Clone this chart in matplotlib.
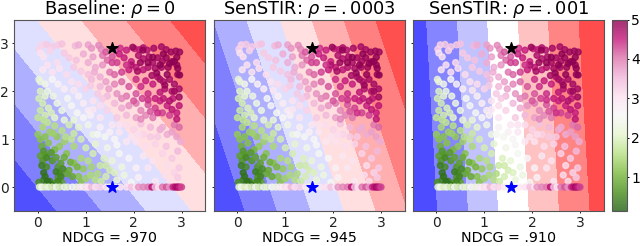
import numpy as np
from matplotlib import pyplot as plt

titles = ['Baseline: $\\rho = 0$', 'SenSTIR: $\\rho = .0003$', 'SenSTIR: $\\rho = .001$']
xlabels = ['NDCG = .970', 'NDCG = .945', 'NDCG = .910']

# background planes: x + slope*y, band edges
plane_slope = [0.81, 0.336, 0.058]
plane_levels = [
    [-100, -0.01, 0.93, 1.86, 2.82, 3.74, 4.67, 5.59, 100],
    [-100, -0.01, 0.67, 1.37, 2.07, 2.73, 3.40, 4.06, 100],
    [-100, -0.004, 0.64, 1.27, 1.91, 2.54, 3.18, 100],
]
bands8 = ['#5050ff', '#8080ff', '#afafff', '#dfdfff', '#ffdfdf', '#ffafaf', '#ff8080', '#ff5050']
bands7 = ['#4d4dff', '#8585ff', '#c2c2ff', '#ffffff', '#ffc2c2', '#ff8585', '#ff4d4d']
plane_colors = [bands8, bands8, bands7]

point_x = [
    0.03, 0.08, 0.18, 0.3, 0.42, 0.5, 0.78, 0.85, 1.05, 1.12, 1.27, 1.32, 1.62, 1.72, 1.85, 2.02, 2.12, 2.2, 2.28, 2.42, 2.58, 2.68, 2.78, 2.88, 2.96,
    0.05, 0.12, 0.25, 0.4, 0.55, 0.65, 0.8, 0.95, 1.05, 1.15, 1.35, 1.45, 1.55, 1.65,
    1.8, 1.95, 2.1, 2.2, 2.32, 2.4, 2.5, 2.6, 2.68, 2.8, 2.9, 2.72, 2.58, 2.45, 2.3, 2.2, 2.05, 1.9, 1.75, 1.5, 1.6,
    0.1, 0.2, 0.3, 0.45, 0.6, 0.75, 0.9, 1.05, 1.2, 1.3, 1.42, 0.05, 0.02, 0.15, 0.3, 0.42, 0.55, 0.7, 0.85, 1.0, 1.12,
    1.6, 1.75, 1.9, 2.05, 2.15, 2.25, 2.4, 2.5, 2.62, 2.75, 2.85, 2.92, 2.95, 2.8, 2.65, 2.55, 2.3, 2.05, 1.85, 1.65, 1.45, 1.25,
    0.05, 0.02, 0.1, 0.05, 0.0, 0.15, 0.22, 0.32, 0.4, 0.5, 0.62, 0.7, 0.85, 0.95, 0.82, 1.05, 1.15, 1.3, 1.45, 1.6, 1.75, 1.9,
    2.05, 2.15, 2.3, 2.45, 2.55, 2.7, 2.82, 2.95, 2.9, 2.75, 2.6, 2.4, 2.25, 2.05, 1.85, 1.65, 1.3, 1.1, 0.95, 0.35, 0.55,
    0.0, 0.05, 0.1, 0.2, 0.25, 0.35, 0.4, 0.5, 0.55, 0.65, 0.75, 0.85, 0.9, 1.05, 1.15, 1.3, 1.4, 1.55, 1.7, 1.85, 2.0, 2.15,
    2.2, 2.35, 2.5, 2.6, 2.7, 2.85, 2.95, 2.9, 2.98, 2.68, 2.45, 2.25, 2.05, 1.85, 1.65, 1.45, 1.2, 1.0, 0.75, 0.45, 0.22, 0.08,
    0.05, 0.1, 0.15, 0.18, 0.3, 0.35, 0.42, 0.48, 0.45, 0.6, 0.65, 0.75, 0.9, 0.95, 1.05, 1.15, 1.3, 1.38, 1.5, 1.55, 1.7, 1.75,
    1.9, 2.05, 2.2, 2.3, 2.4, 2.6, 2.7, 2.8, 2.92, 2.95, 2.85,
    0.02, 0.12, 0.18, 0.25, 0.35, 0.42, 0.5, 0.6, 0.85, 0.9, 1.0, 1.1, 1.2, 1.32, 1.42, 1.65, 1.8, 1.95, 2.1, 2.45, 2.65, 2.75, 2.92,
]
point_y = [
    2.88, 2.97, 2.98, 2.93, 2.97, 2.99, 2.95, 2.97, 2.97, 2.9, 2.96, 2.88, 2.85, 2.9, 2.86, 2.89, 2.87, 2.91, 2.86, 2.9, 2.93, 2.87, 2.82, 2.84, 2.82,
    2.8, 2.72, 2.85, 2.6, 2.8, 2.7, 2.65, 2.78, 2.6, 2.72, 2.75, 2.65, 2.72, 2.6,
    2.7, 2.62, 2.75, 2.68, 2.72, 2.6, 2.7, 2.63, 2.7, 2.62, 2.55, 2.5, 2.5, 2.48, 2.5, 2.45, 2.5, 2.45, 2.4, 2.4, 2.35,
    2.45, 2.55, 2.4, 2.48, 2.35, 2.5, 2.42, 2.35, 2.5, 2.3, 2.2, 2.2, 2.25, 2.15, 2.25, 2.15, 2.05, 2.2, 2.15, 2.05, 2.25,
    2.15, 2.2, 2.1, 2.25, 2.1, 2.22, 2.15, 2.3, 2.2, 2.25, 2.15, 2.35, 2.05, 2.0, 2.05, 1.98, 1.95, 1.95, 1.9, 1.95, 1.9, 1.95,
    2.0, 1.85, 1.75, 1.6, 1.45, 1.5, 1.65, 1.9, 1.75, 1.6, 1.85, 1.7, 1.9, 1.75, 1.55, 1.6, 1.8, 1.7, 1.6, 1.75, 1.65, 1.7,
    1.75, 1.6, 1.72, 1.65, 1.8, 1.7, 1.85, 1.7, 1.55, 1.5, 1.55, 1.45, 1.5, 1.45, 1.5, 1.45, 1.45, 1.5, 1.45, 1.45, 1.4,
    1.1, 1.0, 1.25, 1.35, 1.15, 1.28, 1.05, 1.18, 0.95, 1.3, 1.12, 1.25, 1.0, 1.3, 1.1, 1.25, 1.05, 1.3, 1.15, 1.3, 1.2, 1.32,
    1.1, 1.25, 1.05, 1.25, 1.1, 1.3, 1.25, 1.05, 0.95, 0.85, 0.9, 0.85, 0.95, 0.95, 0.88, 0.82, 0.9, 0.82, 0.85, 0.85, 0.92, 0.85,
    0.65, 0.55, 0.68, 0.42, 0.55, 0.78, 0.42, 0.5, 0.3, 0.7, 0.35, 0.5, 0.6, 0.38, 0.55, 0.7, 0.45, 0.6, 0.35, 0.55, 0.7, 0.42,
    0.6, 0.4, 0.65, 0.4, 0.55, 0.7, 0.45, 0.6, 0.75, 0.4, 0.3,
    0.1, 0.15, 0.05, 0.12, 0.08, 0.2, 0.1, 0.28, 0.22, 0.1, 0.18, 0.25, 0.15, 0.12, 0.22, 0.15, 0.25, 0.1, 0.2, 0.12, 0.25, 0.12, 0.2,
]
point_v = [
    3.2, 3.2, 3.3, 3.3, 3.3, 3.4, 3.5, 3.6, 3.7, 3.8, 3.9, 3.9, 4.2, 4.4, 4.5, 4.5, 4.6, 4.7, 4.7, 4.8, 4.8, 4.8, 4.9, 4.9, 4.9,
    3.0, 3.0, 3.2, 3.1, 3.3, 3.3, 3.4, 3.6, 3.6, 3.7, 4.0, 4.1, 4.2, 4.3,
    4.5, 4.5, 4.7, 4.7, 4.8, 4.8, 4.8, 4.8, 4.9, 4.9, 4.9, 4.9, 4.8, 4.8, 4.7, 4.6, 4.6, 4.5, 4.3, 4.0, 4.1,
    2.9, 3.0, 3.0, 3.0, 3.1, 3.3, 3.3, 3.4, 3.6, 3.6, 3.7, 2.2, 2.2, 2.4, 2.6, 2.7, 2.8, 3.0, 3.1, 3.2, 3.5,
    3.9, 4.1, 4.2, 4.4, 4.4, 4.5, 4.5, 4.7, 4.7, 4.8, 4.8, 4.9, 4.8, 4.7, 4.7, 4.6, 4.4, 4.2, 4.0, 3.8, 3.5, 3.3,
    2.0, 1.9, 1.9, 1.8, 1.7, 1.9, 2.0, 2.3, 2.3, 2.3, 2.5, 2.5, 2.7, 2.8, 2.5, 2.8, 3.0, 3.1, 3.2, 3.5, 3.6, 3.8,
    4.0, 3.9, 4.2, 4.3, 4.5, 4.5, 4.6, 4.6, 4.5, 4.3, 4.3, 4.0, 3.9, 3.7, 3.5, 3.3, 2.9, 2.7, 2.6, 2.1, 2.2,
    1.3, 1.2, 1.5, 1.7, 1.4, 1.6, 1.3, 1.6, 1.4, 1.9, 1.8, 2.1, 1.9, 2.4, 2.3, 2.7, 2.5, 2.9, 2.9, 3.1, 3.2, 3.4,
    3.2, 3.5, 3.3, 3.6, 3.6, 4.0, 4.1, 3.7, 3.6, 3.4, 3.2, 3.1, 3.0, 2.9, 2.6, 2.4, 2.1, 1.9, 1.5, 1.3, 1.2, 1.0,
    0.8, 0.7, 0.8, 0.6, 0.7, 1.1, 0.7, 0.8, 0.6, 1.2, 0.9, 1.2, 1.5, 1.3, 1.6, 1.9, 1.8, 2.0, 1.9, 2.2, 2.5, 2.3,
    2.6, 2.7, 2.9, 2.9, 3.0, 3.2, 3.1, 3.3, 3.5, 3.3, 3.2,
    0.6, 0.5, 0.5, 0.5, 0.7, 0.7, 0.8, 0.9, 1.2, 1.2, 1.4, 1.5, 1.6, 1.8, 1.9, 2.2, 2.3, 2.5, 2.7, 2.9, 3.1, 3.1, 3.3,
]
# second pass over the picture: clusters the first pass missed
extra_x = [1.98, 2.19, 2.4, 2.55, 2.48, 2.9, 2.96, 2.92, 2.65, 2.3, 2.14, 2.62, 2.75, 2.85, 2.08, 1.95, 2.38, 2.55, 2.7, 2.85, 2.95, 2.75, 2.62, 2.45, 2.3, 2.18, 2.0, 2.9, 2.8, 2.5, 2.35, 2.15,
           1.42, 1.55, 1.7, 1.85, 1.35, 1.18,
           0.12, 0.2, 0.15, 0.28, 0.38, 0.48, 0.42, 0.52, 0.08, 0.18, 0.12, 0.28, 0.38, 0.55, 0.68, 0.82, 0.72, 1.12, 1.25, 1.42, 1.6,
           0.58, 0.7, 0.32, 0.15, 0.12, 0.28, 0.75, 1.25, 1.5, 1.6, 1.95, 2.1, 2.35, 2.55, 2.8, 1.1, 1.3, 1.48, 1.35, 0.75, 0.2, 0.15, 1.7, 1.15, 1.75]
extra_y = [2.92, 2.86, 2.71, 2.55, 2.38, 2.71, 2.34, 2.48, 2.13, 2.6, 2.6, 2.78, 2.58, 2.62, 2.42, 2.55, 2.33, 2.25, 2.35, 2.0, 1.88, 1.8, 1.85, 1.85, 1.82, 1.85, 1.8, 1.42, 1.62, 1.55, 1.58, 1.42,
           2.82, 2.6, 2.78, 2.55, 2.55, 2.4,
           0.3, 0.12, 0.22, 0.05, 0.32, 0.22, 0.12, 0.38, 0.45, 0.62, 0.75, 0.72, 0.62, 0.62, 0.52, 0.42, 0.22, 0.42, 0.28, 0.45, 0.3,
           1.05, 1.0, 1.12, 1.05, 1.4, 1.55, 1.4, 1.1, 1.15, 1.0, 1.05, 1.1, 1.05, 1.2, 1.15, 2.12, 2.1, 2.05, 1.85, 2.02, 2.0, 1.9, 1.3, 1.62, 1.85]
extra_v = [4.9, 4.95, 5.0, 5.0, 4.95, 5.0, 5.0, 5.0, 4.9, 4.95, 4.9, 5.0, 5.0, 5.0, 4.8, 4.7, 4.8, 4.8, 4.95, 4.85, 4.85, 4.7, 4.6, 4.5, 4.4, 4.3, 4.2, 4.6, 4.6, 4.4, 4.2, 3.9,
           4.2, 4.3, 4.5, 4.4, 3.8, 3.6,
           0.3, 0.25, 0.3, 0.3, 0.45, 0.5, 0.5, 0.6, 0.45, 0.55, 0.7, 0.75, 0.85, 0.95, 1.0, 1.05, 0.9, 1.45, 1.55, 1.85, 2.0,
           1.6, 1.7, 1.4, 1.2, 1.7, 1.95, 2.2, 2.5, 2.7, 2.6, 3.0, 3.1, 3.3, 3.6, 3.7, 3.3, 3.5, 3.7, 3.3, 2.9, 2.3, 2.1, 3.0, 2.9, 3.9]
# the row of points lying on y = 0
row_x = [0.03, 0.08, 0.15, 0.22, 0.3, 0.38, 0.45, 0.55, 0.62, 0.72, 0.8, 0.88, 0.95, 1.0, 1.05, 1.12, 1.2, 1.3, 1.42, 1.5,
         1.6, 1.72, 1.85, 1.95, 2.05, 2.1, 2.2, 2.3, 2.38, 2.45, 2.52, 2.6, 2.68, 2.75, 2.82, 2.86, 2.9, 2.93, 2.96, 3.0]
row_v = [2.0, 2.5, 2.0, 2.3, 1.9, 2.5, 1.9, 2.3, 2.1, 2.6, 2.3, 2.8, 2.7, 3.1, 2.9, 3.5, 3.0, 3.2, 2.9, 2.4,
         2.6, 2.9, 3.0, 3.4, 2.9, 3.8, 3.9, 4.0, 4.6, 3.5, 3.0, 4.0, 4.2, 3.8, 4.4, 4.6, 4.8, 4.7, 4.5, 4.3]

star_x = [1.55, 1.55]
star_y = [2.9, 0.0]
star_c = ['black', 'blue']

W, H = 640.0, 246.0
lefts = [14, 213.5, 412.5]

fig = plt.figure(figsize=(6.4, 2.46), dpi=100)

gx, gy = np.meshgrid(np.linspace(-0.5, 3.5, 50), np.linspace(-0.5, 3.5, 50))
all_x = point_x + extra_x + row_x
all_y = point_y + extra_y + [0.0] * len(row_x)
all_v = point_v + extra_v + row_v

for i in range(3):
    ax = fig.add_axes([lefts[i] / W, (H - 211) / H, 191.5 / W, 191.5 / H])
    ax.contourf(gx, gy, gx + plane_slope[i] * gy, levels=plane_levels[i], colors=plane_colors[i])
    sc = ax.scatter(all_x, all_y, c=all_v, s=18, cmap='PiYG_r', vmin=0.15, vmax=5, alpha=0.82)
    for k in range(2):
        ax.scatter(star_x[k], star_y[k], marker='*', s=70, color=star_c[k], zorder=3)
    ax.set_xlim(-0.5, 3.5)
    ax.set_ylim(-0.5, 3.5)
    ax.set_xticks([0, 1, 2, 3])
    ax.set_yticks([0, 1, 2, 3])
    ax.tick_params(labelsize=10, length=1.5, pad=2, width=0.7, colors='#222222')
    if i > 0:
        ax.tick_params(labelleft=False)
    for s in ax.spines.values():
        s.set_color('#555555')
    ax.set_title(titles[i], fontsize=12.8, pad=1)
    ax.set_xlabel(xlabels[i], fontsize=10.3, labelpad=0.5)

cax = fig.add_axes([611.5 / W, (H - 211) / H, 15.5 / W, 191.5 / H])
cb = fig.colorbar(sc, cax=cax, ticks=[1, 2, 3, 4, 5])
cb.ax.tick_params(labelsize=10, length=1.5, pad=1.5, width=0.7)
cb.outline.set_edgecolor('#555555')

plt.savefig('out.png', dpi=100)
plt.close(fig)
